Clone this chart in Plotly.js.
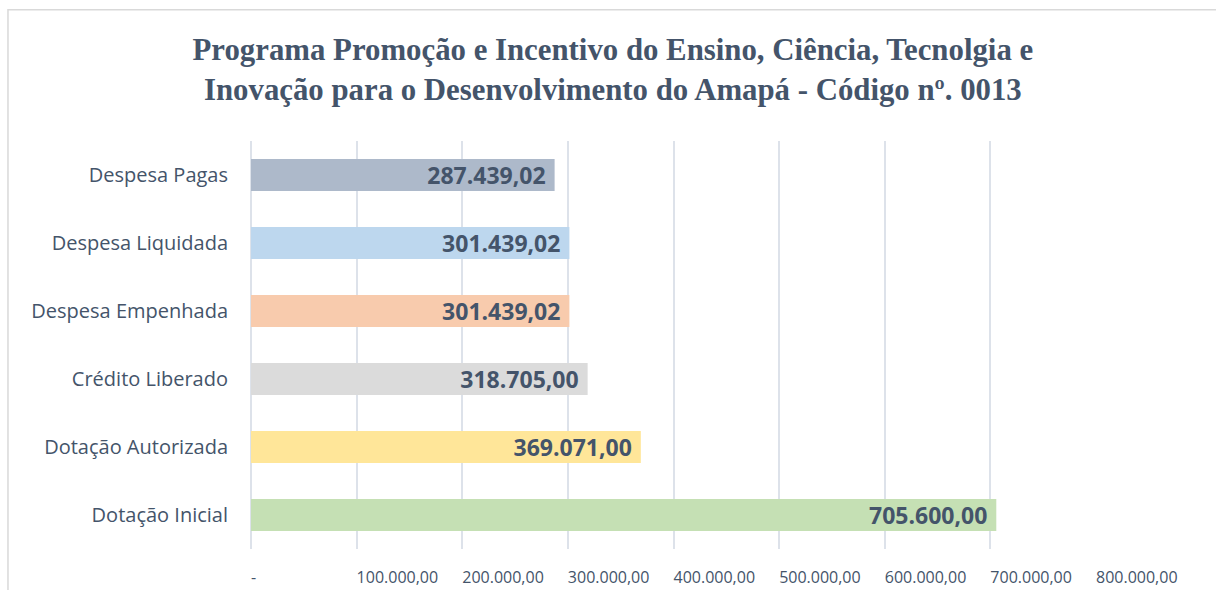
<!DOCTYPE html>
<html>
<head>
<meta charset="utf-8">
<script src="https://cdn.plot.ly/plotly-3.0.1.min.js"></script>
<style>html,body{margin:0;padding:0;background:#fff;}#chart{width:1216px;height:590px;}</style>
</head>
<body>
<div id="chart"></div>
<script>
const categories = ["Dotação Inicial", "Dotação Autorizada", "Crédito Liberado", "Despesa Empenhada", "Despesa Liquidada", "Despesa Pagas"];
const values = [705600.00, 369071.00, 318705.00, 301439.02, 301439.02, 287439.02];
const valueLabels = ["705.600,00", "369.071,00", "318.705,00", "301.439,02", "301.439,02", "287.439,02"];
const barColors = ["#C5E0B4", "#FFE699", "#DBDBDB", "#F8CBAD", "#BDD7EE", "#ADB9CA"];
const tickValues = [0, 100000, 200000, 300000, 400000, 500000, 600000, 700000, 800000];
const tickLabels = ["-", "100.000,00", "200.000,00", "300.000,00", "400.000,00", "500.000,00", "600.000,00", "700.000,00", "800.000,00"];
const titleText = "Programa Promoção e Incentivo do Ensino, Ciência, Tecnolgia e<br>Inovação para o Desenvolvimento do Amapá - Código nº. 0013";

const textColor = "#44546A";

const trace = {
  type: "bar",
  orientation: "h",
  y: categories,
  x: values,
  text: valueLabels,
  texttemplate: "%{text}\u00a0",
  textposition: "inside",
  insidetextanchor: "end",
  constraintext: "none",
  textfont: {family: "Open Sans, Noto Sans, sans-serif", size: 23, color: textColor, weight: "bold"},
  marker: {color: barColors},
  width: 0.47,
  hoverinfo: "skip",
  cliponaxis: false
};

const layout = {
  width: 1216,
  height: 590,
  paper_bgcolor: "#ffffff",
  plot_bgcolor: "#ffffff",
  margin: {l: 251, r: 120, t: 141, b: 41, pad: 0},
  showlegend: false,
  title: {
    text: titleText,
    x: 0.504,
    xanchor: "center",
    y: 0.898,
    yanchor: "top",
    font: {family: "Liberation Serif, DejaVu Serif, serif", size: 30.8, color: textColor, weight: "bold"}
  },
  xaxis: {
    range: [0, 800000],
    tickvals: tickValues,
    ticktext: tickLabels,
    ticklabelposition: "outside right",
    ticks: "",
    ticklabelstandoff: 17,
    showgrid: true,
    gridcolor: "#DDE2EA",
    gridwidth: 2,
    zeroline: true,
    zerolinecolor: "#DDE2EA",
    zerolinewidth: 2,
    showline: false,
    tickfont: {family: "Open Sans, Noto Sans, sans-serif", size: 16, color: textColor},
    fixedrange: true
  },
  yaxis: {
    type: "category",
    categoryorder: "array",
    categoryarray: categories,
    range: [-0.5, 5.5],
    showgrid: false,
    zeroline: false,
    showline: false,
    ticks: "",
    ticklabelstandoff: 22,
    tickfont: {family: "Open Sans, Noto Sans, sans-serif", size: 20, color: textColor},
    fixedrange: true
  },
  shapes: [
    {type: "rect", xref: "paper", yref: "paper", x0: -0.2876, x1: 1.5, y0: -0.5, y1: 1.3215,
     line: {color: "#D9D9D9", width: 1.5}, fillcolor: "rgba(0,0,0,0)", layer: "below"}
  ]
};

Plotly.newPlot("chart", [trace], layout, {displayModeBar: false, staticPlot: true});
</script>
</body>
</html>
